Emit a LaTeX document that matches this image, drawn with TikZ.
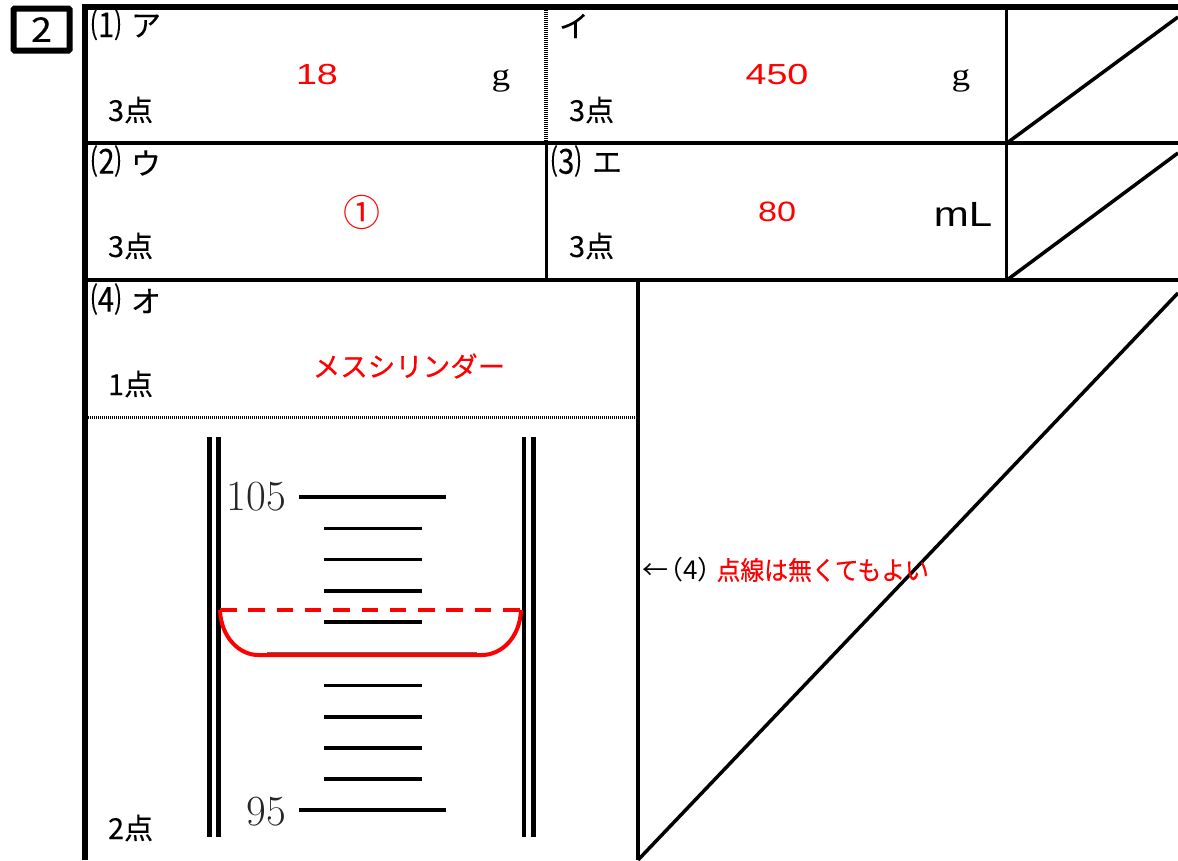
\documentclass[tikz,border=0pt]{standalone}
\usepackage{fontspec}
\usepackage{graphicx}
\setmainfont{Liberation Sans}
\newfontfamily\cjk{Noto Sans CJK JP}
\newfontfamily\cjkl[FakeBold=0.15]{Noto Sans CJK JP}
\newfontfamily\cjkm[FakeBold=0.35]{Noto Sans CJK JP}
\newfontfamily\ser{Liberation Serif}
\newfontfamily\lm{Latin Modern Roman}
\newcommand{\fs}[1]{\fontsize{#1}{#1}\selectfont}
\newcommand{\tallsym}[1]{\scalebox{1}[1.15]{#1}}
\definecolor{ansred}{RGB}{255,0,0}
\tikzset{
  grid3/.style={line width=3.5pt,black},
  outer/.style={line width=6.5pt,black},
  tick/.style={line width=3.6pt,black},
  tube/.style={line width=4.6pt,black},
  redline/.style={line width=4pt,ansred},
  lab/.style={inner sep=0pt,outer sep=0pt,font=\cjkl\fs{30}},
  pts/.style={inner sep=0pt,outer sep=0pt,anchor=west,font=\cjkl\fs{29}},
  ans/.style={inner sep=0pt,outer sep=0pt,text=ansred},
}
\begin{document}
\begin{tikzpicture}[x=1pt,y=-1pt]
\useasboundingbox (0,0) rectangle (1178,860);
\fill[white] (0,0) rectangle (1178,860);
% number box
\node[draw,line width=6pt,minimum width=56pt,minimum height=42pt,inner sep=0pt,rounded corners=1pt,font=\cjkm\fs{34}] (numbox) at (41.5,29.5) {\scalebox{1.1}[1]{2}};
% table lines
\draw[outer] (85,860) -- (85,7) -- (1178,7);
\draw[grid3] (88,143) -- (1178,143);
\draw[grid3] (88,280) -- (1178,280);
\draw[line width=3.5pt,line cap=butt,dash pattern=on 1pt off 1pt] (546,10) -- (546,141);
\draw[line width=3pt] (546,143) -- (546,280);
\draw[grid3] (1006.5,10) -- (1006.5,280);
\draw[grid3] (638,280) -- (638,860);
\draw[line width=2.4pt,dash pattern=on 1pt off 1pt] (88,417.5) -- (636,417.5);
\draw[grid3] (1007,143) -- (1178,17);
\draw[grid3] (1007,280) -- (1178,153);
\draw[grid3] (638,860) -- (1178,293);
% labels
\node[lab] (l1) at (106,24.5) {\tallsym{⑴}};
\node[lab] (a) at (146,26) {ア};
\node[lab] (i) at (574,26) {イ};
\node[lab] (l2) at (106,161) {\tallsym{⑵}};
\node[lab] (u) at (146,163) {ウ};
\node[lab] (l3) at (566,161) {\tallsym{⑶}};
\node[lab] (e) at (607,163) {エ};
\node[lab] (l4) at (106,299) {\tallsym{⑷}};
\node[lab] (o) at (146,301) {オ};
% points
\node[pts] (p1) at (108,110) {3点};
\node[pts] (p2) at (569,110) {3点};
\node[pts] (p3) at (108,246) {3点};
\node[pts] (p4) at (569,246) {3点};
\node[pts] (p5) at (108,384) {1点};
\node[pts] (p6) at (108,828) {2点};
% answers
\node[ans,font=\fs{29}] (a18) at (317,75) {\scalebox{1.3}[1]{18}};
\node[ans,font=\fs{29}] (a450) at (777,75) {\scalebox{1.3}[1]{450}};
\node[ans,font=\fs{28}] (a80) at (777,212) {\scalebox{1.22}[1]{80}};
\node[ans,font=\cjk\fs{37}] (acirc) at (362,212) {①};
\node[ans,font=\cjkm\fs{27.5}] (amass) at (409,366) {メスシリンダー};
\node[inner sep=0pt,font=\ser\fs{31}] (g1) at (501,81) {\scalebox{1.2}[1]{g}};
\node[inner sep=0pt,font=\ser\fs{31}] (g2) at (961,81) {\scalebox{1.2}[1]{g}};
\node[inner sep=0pt,font=\fs{35}] (ml) at (963,214) {\scalebox{1.2}[1]{mL}};
% note
\node[inner sep=0pt,anchor=west,font=\cjk\fs{26}] (note) at (642,570) {←\hspace{-11pt}（4）\hspace{-7pt}\scalebox{0.915}[1]{\textcolor{ansred}{\cjkm 点線は無くてもよい}}};
% cylinder
\foreach \x in {209.5,218.7,524,533.5} \draw[tube] (\x,437) -- (\x,837);
\node[inner sep=0pt,anchor=east,font=\lm\fs{43},text=black!85] (n105) at (286,497) {105};
\node[inner sep=0pt,anchor=east,font=\lm\fs{43},text=black!85] (n95) at (286,812) {95};
\draw[tick] (299,497) -- (446,497);
\draw[tick] (299,810) -- (446,810);
\foreach \y in {528.3,559.5,590.7,622,685.5,716.7,748,779} \draw[tick] (324,\y) -- (422,\y);
\draw[line width=1pt,black!60] (267,652.5) -- (477,652.5);
\draw[redline,dash pattern=on 16.5pt off 11.8pt] (220,610) -- (521,610);
\draw[redline] (220,610) .. controls (221,638) and (240,655) .. (258,655) -- (482,655) .. controls (501,655) and (520,638) .. (521,610);
\end{tikzpicture}
\end{document}
